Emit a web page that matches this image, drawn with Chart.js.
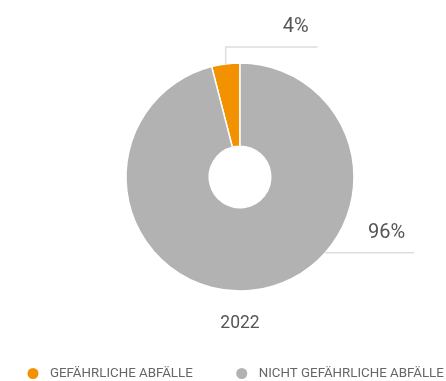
<!DOCTYPE html>
<html>
<head>
<meta charset="utf-8">
<title>Abfälle 2022</title>
<script src="https://cdn.jsdelivr.net/npm/chart.js@4.4.0/dist/chart.umd.min.js"></script>
<style>
  html, body { margin: 0; padding: 0; background: #fff; }
</style>
</head>
<body>
<canvas id="wasteChart" width="446" height="381"></canvas>
<script>
// Data
const categories = ['GEFÄHRLICHE ABFÄLLE', 'NICHT GEFÄHRLICHE ABFÄLLE'];
const shares = [4, 96];
const sliceColors = ['#f39200', '#b2b2b2'];
const yearLabel = '2022';

const total = shares.reduce((a, b) => a + b, 0);

// Percentage labels with elbow leader lines
const leaderLabels = {
    id: 'leaderLabels',
    afterDatasetsDraw(chart, args, opts) {
        const ctx = chart.ctx;
        const meta = chart.getDatasetMeta(0);
        meta.data.forEach((arc, i) => {
            const p = arc.getProps(['x', 'y', 'startAngle', 'endAngle', 'outerRadius'], true);
            const lay = opts.layout[i];
            const a = p.startAngle + (p.endAngle - p.startAngle) * lay.at;
            const ax = p.x + Math.cos(a) * p.outerRadius;
            const ay = p.y + Math.sin(a) * p.outerRadius;
            const ey = ay - lay.rise;
            const ex = ax + lay.run;

            ctx.save();
            ctx.strokeStyle = opts.lineColor;
            ctx.lineWidth = 1.5;
            ctx.beginPath();
            ctx.moveTo(ax, ay);
            ctx.lineTo(ax, ey);
            ctx.lineTo(ex, ey);
            ctx.stroke();

            ctx.font = opts.font;
            ctx.fillStyle = opts.color;
            ctx.textAlign = 'right';
            ctx.textBaseline = 'alphabetic';
            ctx.fillText(shares[i] + '%', ex - 9, ey - 15);
            ctx.restore();
        });
    }
};

// Simple left-aligned legend with round markers
const bottomLegend = {
    id: 'bottomLegend',
    afterDraw(chart, args, opts) {
        const ctx = chart.ctx;
        let x = opts.x;
        const y = opts.y;
        ctx.save();
        ctx.font = opts.font;
        ctx.textBaseline = 'middle';
        ctx.textAlign = 'left';
        chart.data.labels.forEach((label, i) => {
            ctx.fillStyle = chart.data.datasets[0].backgroundColor[i];
            ctx.beginPath();
            ctx.arc(x + opts.radius, y, opts.radius, 0, Math.PI * 2);
            ctx.fill();
            ctx.fillStyle = opts.color;
            const tx = x + opts.radius + opts.textOffset;
            ctx.fillText(label, tx, y + 0.5);
            x = tx + ctx.measureText(label).width + opts.gap;
        });
        ctx.restore();
    }
};

const ctx = document.getElementById('wasteChart').getContext('2d');

const wasteChart = new Chart(ctx, {
    type: 'doughnut',
    data: {
        labels: categories,
        datasets: [{
            data: shares,
            backgroundColor: sliceColors,
            borderColor: '#ffffff',
            borderWidth: 1.5,
            hoverOffset: 0
        }]
    },
    options: {
        responsive: false,
        animation: false,
        cutout: '27%',
        radius: 114,
        // start the small slice so that it ends at twelve o'clock
        rotation: -shares[0] / total * 360,
        layout: {
            padding: { top: 63, left: 34, right: 0, bottom: 36.5 }
        },
        plugins: {
            legend: { display: false },
            tooltip: { enabled: false },
            title: {
                display: true,
                text: yearLabel,
                position: 'bottom',
                color: '#555555',
                font: { family: 'Roboto', size: 17.5, weight: '400' },
                padding: { top: 22.5, bottom: 10 }
            },
            leaderLabels: {
                layout: [
                    { at: 0.5, rise: 17, run: 92 },
                    { at: 0.381, rise: 0, run: 89 }
                ],
                lineColor: '#dddddd',
                color: '#555555',
                font: '400 20px Roboto'
            },
            bottomLegend: {
                x: 27.5,
                y: 373.5,
                radius: 5.5,
                textOffset: 17,
                gap: 43.5,
                color: '#666666',
                font: '400 13.3px Roboto'
            }
        }
    },
    plugins: [leaderLabels, bottomLegend]
});
</script>
</body>
</html>
